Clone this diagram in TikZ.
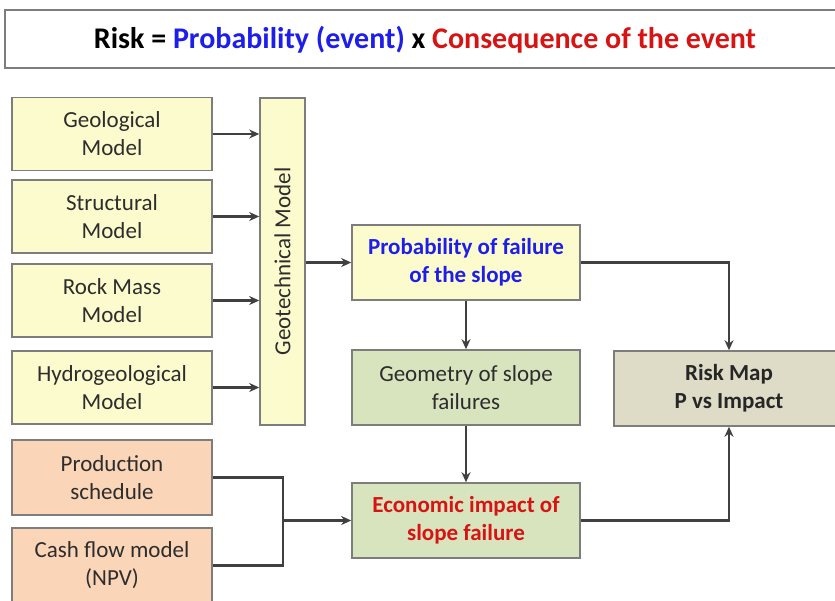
\documentclass[tikz,border=0pt]{standalone}
\usepackage{fontspec}
\setmainfont{Carlito}
\usetikzlibrary{arrows.meta}
\definecolor{yel}{RGB}{252,251,206}
\definecolor{peach}{RGB}{250,213,183}
\definecolor{grn}{RGB}{216,228,190}
\definecolor{tan}{RGB}{222,219,198}
\definecolor{edge}{RGB}{125,125,125}
\definecolor{arrc}{RGB}{64,64,64}
\definecolor{txt}{RGB}{45,45,45}
\definecolor{tblue}{RGB}{30,30,235}
\definecolor{tred}{RGB}{215,20,20}
\begin{document}
\begin{tikzpicture}[x=1pt,y=-1pt,
  box/.style={draw=edge, line width=1.6pt, inner sep=0pt, align=center,
    font=\fontsize{23}{28}\selectfont, text=txt},
  lbox/.style={box, fill=yel, minimum width=200pt, minimum height=73pt},
  pbox/.style={box, fill=peach, minimum width=200pt, minimum height=75pt},
  cbox/.style={box, minimum width=228pt, minimum height=75pt},
  arr/.style={draw=arrc, line width=2.2pt, -{Stealth[length=10pt,width=9pt]}},
  ln/.style={draw=arrc, line width=2.2pt}]
\clip (0,0) rectangle (835,600);
\fill[white] (0,0) rectangle (835,600);
% title
\draw[draw=edge, line width=2pt, fill=white] (5,10) rectangle (845,68);
\node[font=\fontsize{30}{34}\selectfont\bfseries] (title) at (425,40)
  {Risk = \textcolor{tblue}{Probability (event)} x \textcolor{tred}{Consequence of the event}};
% left column
\node[lbox] (geo) at (112,134) {Geological\\Model};
\node[lbox] (str) at (112,216.5) {Structural\\Model};
\node[lbox] (rock) at (112,300.5) {Rock Mass\\Model};
\node[lbox] (hyd) at (112,387.5) {Hydrogeological\\Model};
\node[box, fill=yel, minimum width=45pt, minimum height=327pt] (gt) at (282.5,261.5) {};
\node[rotate=90, font=\fontsize{23}{28}\selectfont, text=txt] (gtl) at (gt.center) {Geotechnical Model};
\node[pbox] (prod) at (112,477.5) {Production\\schedule};
\node[pbox] (cash) at (112,565.5) {Cash flow model\\(NPV)};
% centre column
\node[cbox, fill=yel, font=\fontsize{23}{28}\selectfont\bfseries, text=tblue] (prob) at (466,262.5) {Probability of failure\\of the slope};
\node[cbox, fill=grn] (geom) at (466,387.5) {Geometry of slope\\failures};
\node[cbox, fill=grn, font=\fontsize{23}{28}\selectfont\bfseries, text=tred] (econ) at (466,520.5) {Economic impact of\\slope failure};
% right
\node[box, fill=tan, minimum width=230pt, minimum height=75pt, font=\fontsize{23}{28}\selectfont\bfseries, text=black!85] (risk) at (729,388.5) {Risk Map\\P vs Impact};
% connectors
\foreach \n in {geo,str,rock,hyd} \draw[arr] (\n.east) -- (\n.east -| gt.west);
\draw[arr] (gt.east |- prob.west) -- (prob.west);
\draw[arr] (prob.south) -- (geom.north);
\draw[arr] (geom.south) -- (econ.north);
\draw[arr] (prob.east) -| (risk.north);
\draw[arr] (econ.east) -| (risk.south);
\coordinate (j) at (283,520.5);
\draw[ln] (prod.east) -| (j |- cash.east) -- (cash.east);
\draw[arr] (j) -- (econ.west);
\end{tikzpicture}
\end{document}
